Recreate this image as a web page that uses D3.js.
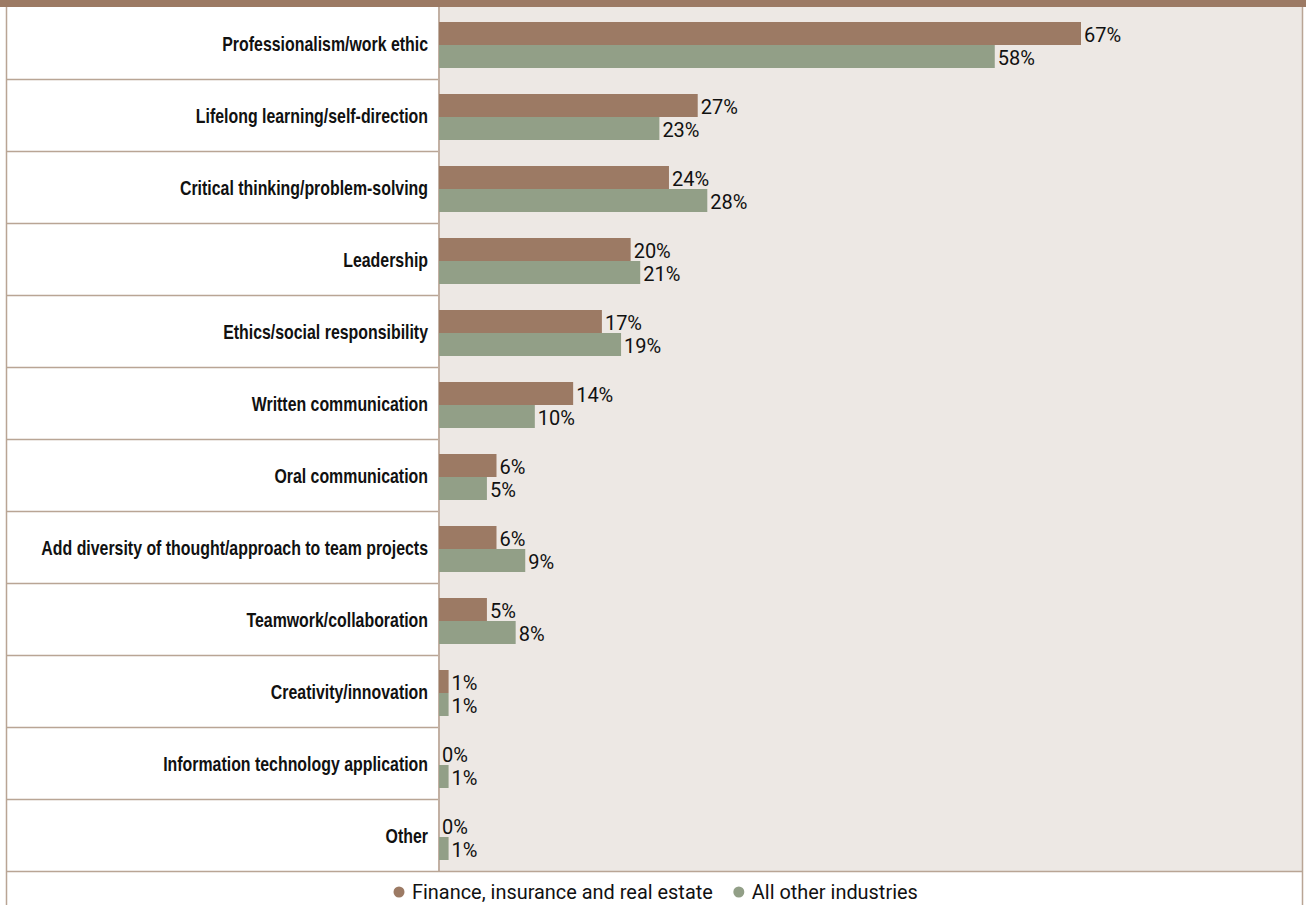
<!DOCTYPE html>
<html><head><meta charset="utf-8">
<script src="https://cdn.jsdelivr.net/npm/d3@7"></script>
<style>
body{margin:0;background:#fff;}
svg{display:block;}
.cat{font-family:"Liberation Sans","Arial",sans-serif;font-weight:bold;font-size:21px;fill:#111;}
.val{font-family:"Roboto","Open Sans",sans-serif;font-size:20px;fill:#111;}
.leg{font-family:"Roboto","Open Sans",sans-serif;font-size:20px;fill:#111;}
</style></head><body>
<svg id="c" width="1306" height="905"></svg>
<script>
const categories = ["Professionalism/work ethic","Lifelong learning/self-direction","Critical thinking/problem-solving","Leadership","Ethics/social responsibility","Written communication","Oral communication","Add diversity of thought/approach to team projects","Teamwork/collaboration","Creativity/innovation","Information technology application","Other"];
const finance = [67,27,24,20,17,14,6,6,5,1,0,0];
const others = [58,23,28,21,19,10,5,9,8,1,1,1];
const seriesNames = ["Finance, insurance and real estate","All other industries"];
const colors = ["#9c7a64","#929f87"];

(function(){
const svg = d3.select("#c");
const L = 6, R = 1302, topY = 7, rowsBottom = 871, plotX = 439;
svg.append("rect").attr("x",0).attr("y",0).attr("width",1306).attr("height",topY).attr("fill","#9c7a64");
svg.append("rect").attr("x",plotX).attr("y",topY).attr("width",R-plotX).attr("height",rowsBottom-topY).attr("fill","#ede8e4");

const y = d3.scaleBand().domain(categories).range([topY,rowsBottom]);
const x = d3.scaleLinear().domain([0,67]).range([plotX, 1081]);
const inner = d3.scaleBand().domain([0,1]).range([0,46]);

svg.append("g").selectAll("line").data(categories.slice(1)).join("line")
  .attr("x1",L).attr("x2",plotX).attr("y1",d=>y(d)+0.5).attr("y2",d=>y(d)+0.5)
  .attr("stroke","#b9a595").attr("stroke-width",1.5);
svg.append("line").attr("x1",L+0.5).attr("x2",L+0.5).attr("y1",topY).attr("y2",905).attr("stroke","#b9a595").attr("stroke-width",1.5);
svg.append("line").attr("x1",R+0.5).attr("x2",R+0.5).attr("y1",topY).attr("y2",905).attr("stroke","#b9a595").attr("stroke-width",1.5);
svg.append("line").attr("x1",plotX).attr("x2",plotX).attr("y1",topY).attr("y2",rowsBottom).attr("stroke","#c2b0a3").attr("stroke-width",2);
svg.append("line").attr("x1",L).attr("x2",R).attr("y1",rowsBottom+0.5).attr("y2",rowsBottom+0.5).attr("stroke","#b9a595").attr("stroke-width",1.5);

// category labels, condensed horizontally to fit the label column
const catT = svg.append("g").selectAll("text").data(categories).join("text").attr("class","cat")
  .attr("text-anchor","end").attr("dy","0.35em").text(d=>d);
let maxW = 0; catT.each(function(){ maxW = Math.max(maxW, this.getComputedTextLength()); });
const sx = 387 / maxW;
catT.attr("transform", d=>`translate(428,${y(d)+y.bandwidth()/2+1}) scale(${sx},1)`);

const data = [];
categories.forEach((c,i)=>{ data.push({c,s:0,v:finance[i]}); data.push({c,s:1,v:others[i]}); });
const off = d => y(d.c) + (y.bandwidth()-46)/2 + 2 + inner(d.s);
svg.append("g").selectAll("rect").data(data).join("rect")
  .attr("x",plotX).attr("y",off).attr("width",d=>x(d.v)-plotX).attr("height",inner.bandwidth())
  .attr("fill",d=>colors[d.s]);
svg.append("g").selectAll("text").data(data).join("text").attr("class","val")
  .attr("x",d=>x(d.v)+3).attr("y",d=>off(d)+inner.bandwidth()/2+1).attr("dy","0.35em").text(d=>d.v+"%");

// legend
const lg = svg.append("g");
const texts = seriesNames.map((n,i)=>lg.append("text").attr("class","leg").attr("dy","0.35em").text(n));
const w0 = texts[0].node().getComputedTextLength();
const ls = 301 / w0;
let cx = 399;
texts.forEach((t,i)=>{
  lg.append("circle").attr("cx",cx).attr("cy",892).attr("r",5.5).attr("fill",colors[i]);
  t.attr("transform",`translate(${cx+13},892) scale(${ls},1)`);
  cx += 13 + t.node().getComputedTextLength()*ls + 26;
});
})();
</script></body></html>
